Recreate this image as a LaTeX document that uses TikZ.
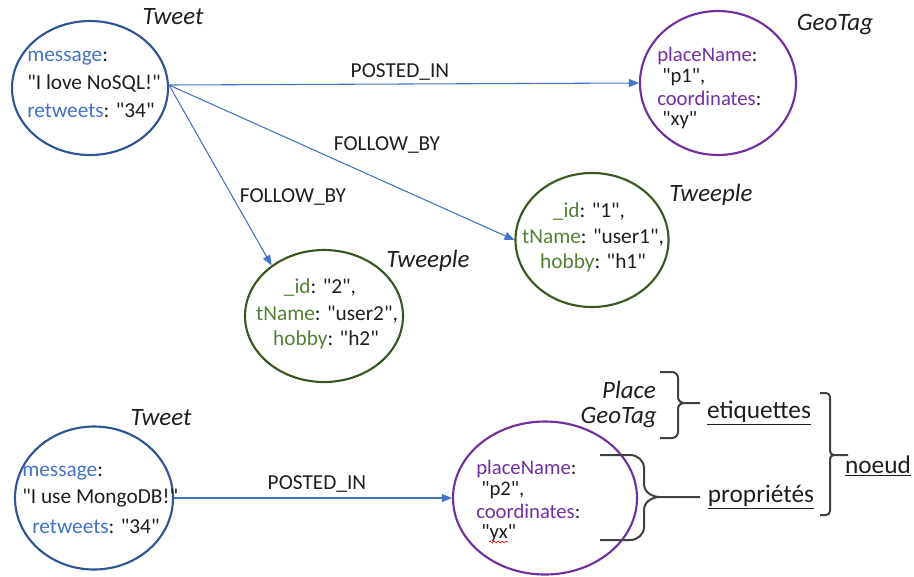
\documentclass[tikz,border=0pt]{standalone}
\usepackage{fontspec}
\setmainfont{Carlito}[Ligatures=TeXOff]
\usetikzlibrary{shapes.geometric,arrows.meta,decorations.pathmorphing}
\definecolor{blueborder}{RGB}{47,85,151}
\definecolor{bluekey}{RGB}{68,114,196}
\definecolor{purp}{RGB}{112,48,160}
\definecolor{greenborder}{RGB}{56,87,35}
\definecolor{greenkey}{RGB}{84,130,53}
\definecolor{txt}{RGB}{30,30,30}
\definecolor{bracec}{RGB}{64,64,64}
\def\u{0.75pt}
\begin{document}
\begin{tikzpicture}[x=0.75pt,y=-0.75pt,
  every node/.style={font=\fontsize{16}{19}\selectfont, text=txt, inner sep=0pt},
  tight/.style={font=\fontsize{15.5}{18}\selectfont},
  ell/.style={ellipse, draw, line width=1.6pt},
  blueell/.style={ell, draw=blueborder},
  purpell/.style={ell, draw=purp},
  greenell/.style={ell, draw=greenborder},
  lbl/.style={font=\fontsize{18.7}{22}\selectfont\itshape},
  legend/.style={font=\fontsize{19}{22}\selectfont},
  rel/.style={draw=bluekey, line width=0.8pt, -{Triangle[length=7.5pt,width=6pt]}},
  brc/.style={draw=bracec, line width=1.5pt}
]
\useasboundingbox (0,0) rectangle (914,576);

% ---- Tweet 1
\node[blueell, minimum width=156*\u, minimum height=134*\u] (tw1) at (90,88) {};
\node (tw1l) at (173,17) [lbl] {Tweet};
\node[anchor=west] (tw1a) at (27,58) {\textcolor{bluekey}{message}:};
\node[anchor=west] (tw1b) at (27,83) {"I love NoSQL!"};
\node[anchor=west] (tw1c) at (27,110) {\textcolor{bluekey}{retweets}: "34"};
\coordinate (src) at (169,85);

% ---- GeoTag 1
\node[purpell, minimum width=156*\u, minimum height=144*\u] (geo1) at (718,83) {};
\node (geo1l) at (835,25) [lbl] {GeoTag};
\node[anchor=west, tight] (geo1a) at (657,56) {\textcolor{purp}{placeName}:};
\node[anchor=west, tight] (geo1b) at (662,77) {"p1",};
\node[anchor=west, tight] (geo1c) at (657,98) {\textcolor{purp}{coordinates}:};
\node[anchor=west, tight] (geo1d) at (662,120) {"xy"};

% ---- Tweeple 1
\node[greenell, minimum width=153*\u, minimum height=134*\u] (tp1) at (592,240) {};
\node (tp1l) at (711,195) [lbl] {Tweeple};
\node (tp1a) at (589,212) {\textcolor{greenkey}{\_id}: "1",};
\node (tp1b) at (593,238) {\textcolor{greenkey}{tName}: "user1",};
\node (tp1c) at (593,263) {\textcolor{greenkey}{hobby}: "h1"};

% ---- Tweeple 2
\node[greenell, minimum width=158*\u, minimum height=132*\u] (tp2) at (324,316) {};
\node (tp2l) at (428,261) [lbl] {Tweeple};
\node (tp2a) at (320,288) {\textcolor{greenkey}{\_id}: "2",};
\node (tp2b) at (327,315) {\textcolor{greenkey}{tName}: "user2",};
\node (tp2c) at (326,340) {\textcolor{greenkey}{hobby}: "h2"};

% ---- edges top
\draw[rel] (src) -- (geo1.west);
\node (e1) at (400,72) {POSTED\_IN};
\draw[rel] (src) -- (tp1.west);
\node (e2) at (387,145) {FOLLOW\_BY};
\draw[rel] (src) -- (tp2.136);
\node (e3) at (293,197) {FOLLOW\_BY};

% ---- Tweet 2
\node[blueell, minimum width=158*\u, minimum height=143*\u] (tw2) at (94,498) {};
\node (tw2l) at (161,418) [lbl] {Tweet};
\node[anchor=west] (tw2a) at (22,473) {\textcolor{bluekey}{message}:};
\node[anchor=west] (tw2b) at (22,498) {"I use MongoDB!"};
\node[anchor=west] (tw2c) at (32,526) {\textcolor{bluekey}{retweets}: "34"};

% ---- GeoTag 2
\node[purpell, minimum width=184*\u, minimum height=153*\u] (geo2) at (545,498) {};
\node[anchor=west, tight] (geo2a) at (476,469) {\textcolor{purp}{placeName}:};
\node[anchor=west, tight] (geo2b) at (481,490) {"p2",};
\node[anchor=west, tight] (geo2c) at (476,511) {\textcolor{purp}{coordinates}:};
\node[anchor=west, tight] (geo2d) at (481,533) {"yx"};
\draw[red, line width=0.5pt, decorate, decoration={snake, amplitude=0.7pt, segment length=3pt}] (489,542) -- (508,542);

\draw[rel] (tw2.east) -- (geo2.west);
\node (e4) at (317,484) {POSTED\_IN};

% ---- legend
\node[lbl, anchor=east] (place) at (656,390) {Place};
\node[lbl, anchor=east] (geotag) at (657,418) {GeoTag};
\node[legend] (etiq) at (759,413) {\underline{etiquettes}};
\node[legend] (prop) at (761,497) {\underline{propriétés}};
\node[legend] (noeud) at (878,466) {\underline{noeud}};

% brace 1
\draw[brc] (660,372) -- (672,372) to[out=0,in=90] (678,378) -- (678,397)
  to[out=-90,in=180] (684,403) -- (700,403);
\draw[brc] (684,403) to[out=180,in=90] (678,409) -- (678,432)
  to[out=-90,in=0] (672,438) -- (660,438);
% brace 2
\draw[brc] (600,455) -- (630,455) to[out=0,in=90] (644,468) -- (644,484)
  to[out=-90,in=180] (660,497) -- (700,497);
\draw[brc] (660,497) to[out=180,in=90] (644,510) -- (644,527)
  to[out=-90,in=0] (630,540) -- (600,540);
% brace 3
\draw[brc] (820,393) -- (826,393) to[out=0,in=90] (830,397) -- (830,451)
  to[out=-90,in=180] (834,455) -- (848,455);
\draw[brc] (834,455) to[out=180,in=90] (830,459) -- (830,511)
  to[out=-90,in=0] (826,515) -- (820,515);
\end{tikzpicture}
\end{document}
